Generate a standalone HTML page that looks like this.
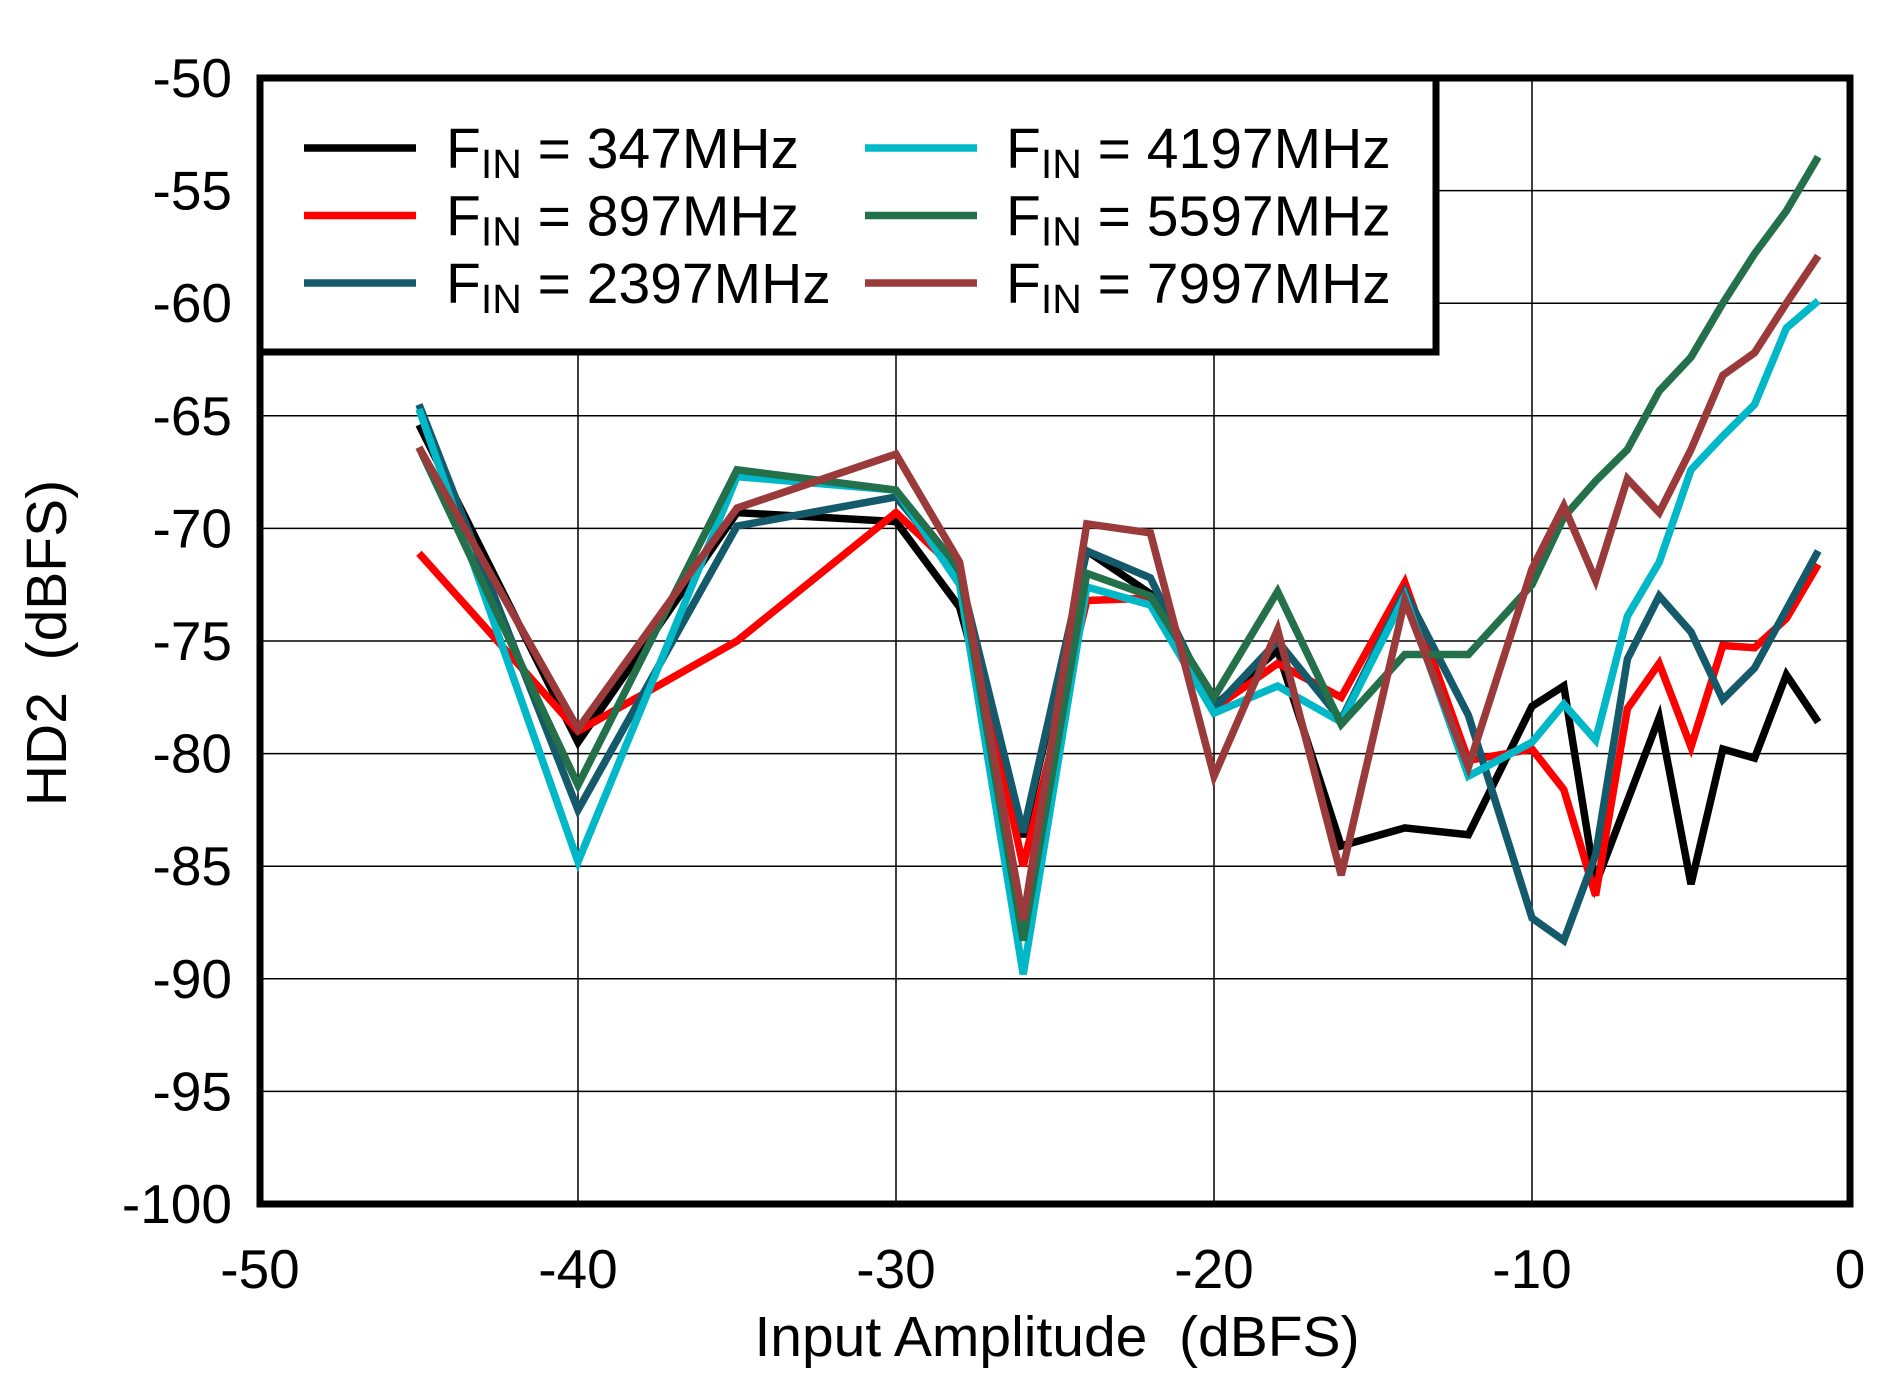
<!DOCTYPE html>
<html><head><meta charset="utf-8"><style>
html,body{margin:0;padding:0;background:#fff;}
svg{display:block;}
text{font-family:"Liberation Sans",Arial,sans-serif;fill:#000;}
</style></head><body>
<svg id="chart" width="1902" height="1382" viewBox="0 0 1902 1382" xmlns="http://www.w3.org/2000/svg">
<g id="grid"></g>
<g id="series"></g>
<rect x="260" y="78" width="1590" height="1126" fill="none" stroke="#000" stroke-width="7"/>
<g id="ticks"></g>
<text x="1057" y="1356" font-size="57" text-anchor="middle">Input Amplitude&#160;&#160;(dBFS)</text>
<text transform="translate(66,643) rotate(-90)" font-size="57" text-anchor="middle">HD2&#160;&#160;(dBFS)</text>
<g id="legend"></g>
</svg>
<script>
const xs = [-45,-40,-35,-30,-28,-26,-24,-22,-20,-18,-16,-14,-12,-10,-9,-8,-7,-6,-5,-4,-3,-2,-1];
const s347  = [-65.4,-79.5,-69.3,-69.7,-73.5,-83.7,-71.0,-72.9,-77.9,-75.4,-84.1,-83.3,-83.6,-77.9,-77.0,-85.8,-82.1,-78.4,-85.8,-79.8,-80.2,-76.5,-78.6];
const s897  = [-71.1,-79.0,-75.0,-69.3,-72.0,-85.0,-73.2,-73.1,-78.0,-76.0,-77.5,-72.4,-80.3,-79.8,-81.6,-86.3,-78.0,-76.0,-79.7,-75.2,-75.3,-74.0,-71.6];
const s2397 = [-64.5,-82.5,-69.9,-68.6,-72.0,-83.5,-71.0,-72.2,-78.0,-75.0,-78.5,-72.8,-78.3,-87.3,-88.3,-84.5,-75.8,-73.0,-74.6,-77.6,-76.2,-73.6,-71.0];
const s4197 = [-64.7,-84.8,-67.7,-68.3,-72.5,-89.8,-72.6,-73.4,-78.2,-77.0,-78.6,-73.0,-81.0,-79.5,-77.8,-79.4,-73.9,-71.5,-67.4,-65.9,-64.5,-61.1,-59.9];
const s5597 = [-66.4,-81.4,-67.4,-68.3,-71.8,-88.3,-72.0,-73.0,-77.5,-72.8,-78.7,-75.6,-75.6,-72.5,-69.5,-67.9,-66.5,-63.9,-62.4,-60.0,-57.8,-55.9,-53.5];
const s7997 = [-66.4,-78.9,-69.1,-66.7,-71.5,-87.4,-69.8,-70.2,-81.0,-74.5,-85.4,-73.2,-80.6,-71.8,-69.0,-72.3,-67.8,-69.3,-66.5,-63.2,-62.2,-60.0,-57.9];
const seriesNames = ["347MHz","897MHz","2397MHz","4197MHz","5597MHz","7997MHz"];
const xTicks = [-50,-40,-30,-20,-10,0];
const yTicks = [-50,-55,-60,-65,-70,-75,-80,-85,-90,-95,-100];

const NS="http://www.w3.org/2000/svg";
const L=260,R=1850,T=78,B=1204;
const xS=v=>L+(v+50)/50*(R-L);
const yS=v=>T+(-50-v)/50*(B-T);
const colors=["#000000","#ff0000","#155a6a","#00b8c8","#23704a","#9b3a3a"];
const data=[s347,s897,s2397,s4197,s5597,s7997];
function mk(tag,attrs,parent){const e=document.createElementNS(NS,tag);for(const k in attrs)e.setAttribute(k,attrs[k]);parent.appendChild(e);return e;}
const grid=document.getElementById('grid');
xTicks.forEach(t=>{const l=mk('line',{x1:xS(t),x2:xS(t),y1:T,y2:B,stroke:'#000','stroke-width':1.5},grid);

});
yTicks.forEach(t=>{const l=mk('line',{x1:L,x2:R,y1:yS(t),y2:yS(t),stroke:'#000','stroke-width':1.5},grid);

});
const ticks=document.getElementById('ticks');
xTicks.forEach(t=>{const e=mk('text',{x:xS(t),y:1288,'font-size':55,'text-anchor':'middle'},ticks);e.textContent=String(t);

});
yTicks.forEach(t=>{const e=mk('text',{x:232,y:yS(t)+19,'font-size':55,'text-anchor':'end'},ticks);e.textContent=String(t);

});
const sg=document.getElementById('series');
data.forEach((arr,i)=>{const pts=arr.map((v,j)=>xS(xs[j]).toFixed(1)+','+yS(v).toFixed(1)).join(' ');
const p=mk('polyline',{points:pts,fill:'none',stroke:colors[i],'stroke-width':7.5,'stroke-linejoin':'miter'},sg);

});
const lg=document.getElementById('legend');
const box=mk('rect',{x:260,y:78,width:1176,height:274,fill:'#fff',stroke:'#000','stroke-width':7},lg);


seriesNames.forEach((n,i)=>{const col=Math.floor(i/3),row=i%3;
const lx=col?865:304,tx=col?1006:446,y=148+row*67.5;
const g=mk('g',{},lg);


mk('line',{x1:lx,x2:lx+112,y1:y,y2:y,stroke:colors[i],'stroke-width':7.5},g);
const t=mk('text',{x:tx,y:y+20,'font-size':57},g);
t.innerHTML='F<tspan font-size="41" dy="10">IN</tspan><tspan dy="-10"> = '+n+'</tspan>';});
</script>
</body></html>
